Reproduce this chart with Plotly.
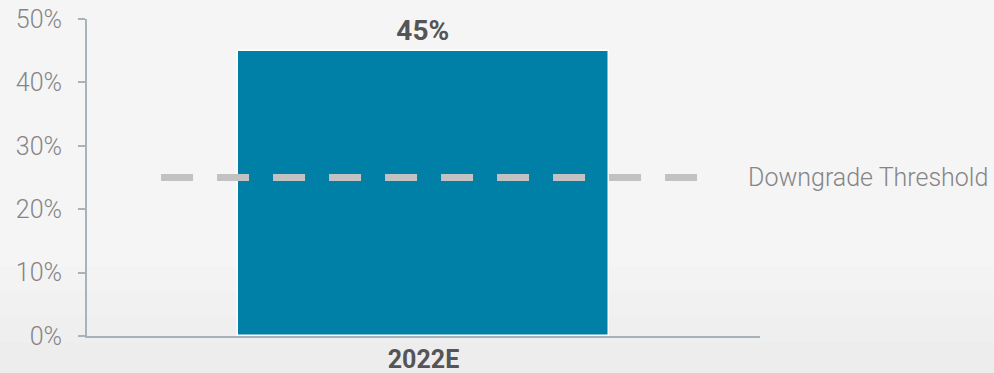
import plotly.graph_objects as go

categories = ["2022E"]
values = [45]
bar_labels = ["45%"]
threshold = 25
threshold_label = "Downgrade Threshold"
y_ticks = [0, 10, 20, 30, 40, 50]
y_tick_labels = ["0%", "10%", "20%", "30%", "40%", "50%"]

BAR = "#007FA7"
AXIS = "#A7B3BB"
MUTED = "#858585"
DARK = "#555555"
DASH = "#C2C2C2"
BG = "#F5F5F6"
FONT = "Roboto, sans-serif"

fig = go.Figure()
fig.add_trace(go.Bar(
    x=categories, y=values, width=0.551,
    marker=dict(color=BAR, line=dict(color="white", width=1.5)),
    text=bar_labels, textposition="outside", cliponaxis=False,
    textfont=dict(family=FONT, size=28, color=DARK, weight="bold"),
    hoverinfo="skip",
))

# Threshold line
fig.add_shape(
    type="line", xref="x", yref="y",
    x0=-0.39, x1=0.408, y0=threshold, y1=threshold,
    line=dict(color=DASH, width=7, dash="32px,24px"), layer="above",
)
fig.add_annotation(
    x=1.0, xref="paper", xanchor="left", xshift=-14,
    y=threshold, yref="y", yanchor="middle",
    text=threshold_label, showarrow=False,
    font=dict(family=FONT, size=25, color=MUTED, weight=300),
)

# soft darker fade towards the bottom of the background
for top in (0.22, 0.14, 0.06, -0.02):
    fig.add_shape(
        type="rect", xref="paper", yref="paper",
        x0=-0.2, x1=1.4, y0=-0.2, y1=top,
        fillcolor="rgba(0,0,0,0.006)", line=dict(width=0), layer="below",
    )

fig.update_layout(
    width=994, height=373,
    margin=dict(l=87, r=234, t=19, b=37),
    paper_bgcolor=BG, plot_bgcolor="rgba(0,0,0,0)",
    showlegend=False, bargap=0,
    font=dict(family=FONT, color=MUTED),
    xaxis=dict(
        showline=True, linecolor=AXIS, linewidth=2,
        showgrid=False, zeroline=False, ticks="",
        tickfont=dict(size=25, color=DARK, weight="bold"),
        ticklabelstandoff=0,
        fixedrange=True, automargin=False,
    ),
    yaxis=dict(
        range=[0, 50], tickvals=y_ticks, ticktext=y_tick_labels,
        showline=True, linecolor=AXIS, linewidth=2,
        ticks="outside", ticklen=7, tickcolor=AXIS, tickwidth=2,
        ticklabelstandoff=11, automargin=False,
        showgrid=False, zeroline=False,
        tickfont=dict(size=25, color=MUTED, weight=300),
    ),
)

fig.write_html(
    "out.html",
    config={"displayModeBar": False},
    post_script="document.body.style.margin='0';",
)
